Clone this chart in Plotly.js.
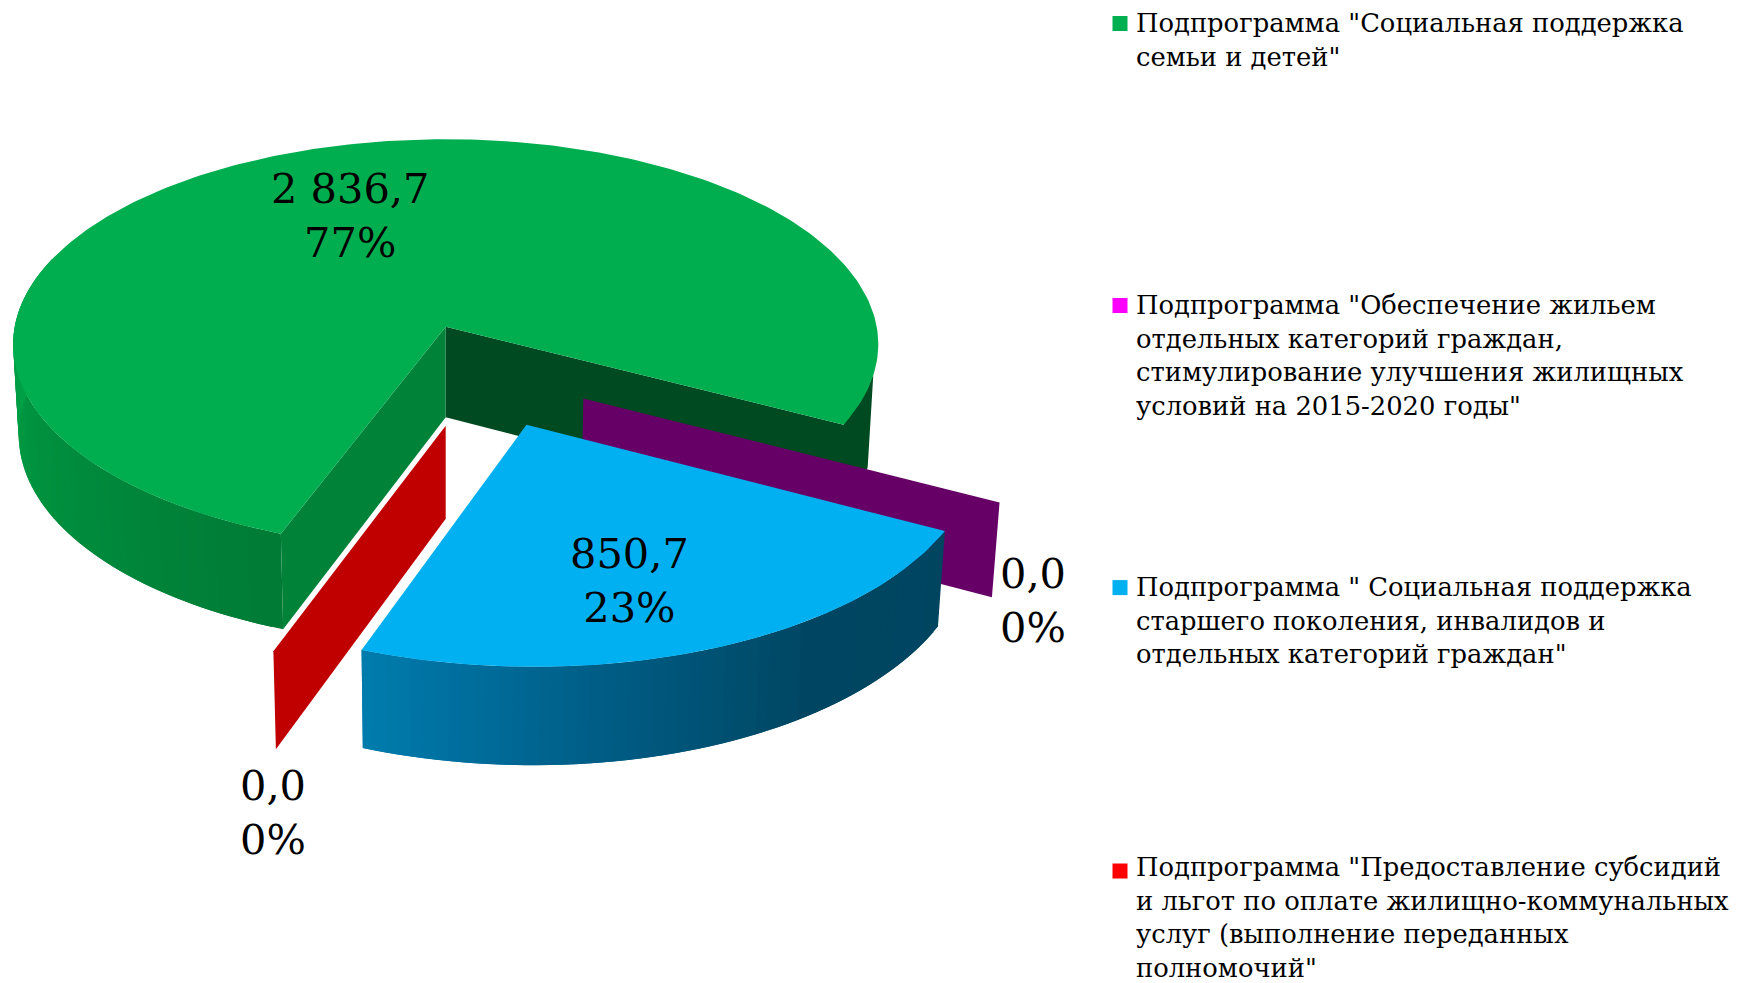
<!DOCTYPE html>
<html>
<head>
<meta charset="utf-8">
<script src="https://cdn.plot.ly/plotly-3.0.1.min.js"></script>
<style>html,body{margin:0;padding:0;background:#fff}#chart{width:1740px;height:983px}</style>
</head>
<body>
<div id="chart"></div>
<script>
// ---- data ----
const categories = [
  'Подпрограмма "Социальная поддержка семьи и детей"',
  'Подпрограмма "Обеспечение жильем отдельных категорий граждан, стимулирование улучшения жилищных условий на 2015-2020 годы"',
  'Подпрограмма " Социальная поддержка старшего поколения, инвалидов и отдельных категорий граждан"',
  'Подпрограмма "Предоставление субсидий и льгот по оплате жилищно-коммунальных услуг (выполнение переданных полномочий"'
];
const legendLines = [
  ['Подпрограмма "Социальная поддержка', 'семьи и детей"'],
  ['Подпрограмма "Обеспечение жильем', 'отдельных категорий граждан,', 'стимулирование улучшения жилищных', 'условий на 2015-2020 годы"'],
  ['Подпрограмма " Социальная поддержка', 'старшего поколения, инвалидов и', 'отдельных категорий граждан"'],
  ['Подпрограмма "Предоставление субсидий', 'и льгот по оплате жилищно-коммунальных', 'услуг (выполнение переданных', 'полномочий"']
];
const values = [2836.7, 0, 850.7, 0];

// ---- style ----
const legendColors = ['#00B050', '#FF00FF', '#00B0F0', '#FF0000'];
const topColors = ['#00AE4F', '#660066', '#00B0F0', '#C00000'];
const explode = [[0, 0], [0.31, 0.342], [0.18, 0.4625], [0, 0.467]];
const startAngle = 110.6;
const FONT = '"DejaVu Serif", serif';

// ---- perspective projection of the disc on to the page ----
const C = {x: 445.7, y: 326.7, R: 431, A: 203.5, D: 91.8, k: 0.0855, m: 0.013};
function project(X, Y, Z) {
  const w = 1 - C.k * Y + C.m * Z;
  return [C.x + C.R * X / w, C.y + (C.A * Y + C.D * Z) / w];
}
const rad = a => a * Math.PI / 180;
function rim(off, a, z) {
  return project(off[0] + Math.cos(rad(a)), off[1] + Math.sin(rad(a)), z);
}
function range(a0, a1, step) {
  const out = [];
  const n = Math.max(1, Math.round(Math.abs(a1 - a0) / step));
  for (let i = 0; i <= n; i++) out.push(a0 + (a1 - a0) * i / n);
  return out;
}
function hex(c) { return [1, 3, 5].map(i => parseInt(c.substr(i, 2), 16)); }
function rampColor(a, stops) {
  for (let i = 0; i < stops.length - 1; i++) {
    const [a0, c0] = stops[i], [a1, c1] = stops[i + 1];
    if (a >= a0 && a <= a1) {
      const t = (a - a0) / (a1 - a0), p = hex(c0), q = hex(c1);
      return 'rgb(' + p.map((v, j) => Math.round(v + (q[j] - v) * t)).join(',') + ')';
    }
  }
  return stops[stops.length - 1][1];
}
const traces = [];
function poly(pts, color, name) {
  traces.push({
    type: 'scatter', mode: 'lines', fill: 'toself', fillcolor: color,
    x: pts.map(p => p[0]), y: pts.map(p => p[1]),
    line: {color: 'rgba(0,0,0,0)', width: 0}, hoverinfo: 'skip', showlegend: false, name: name || ''
  });
}
// Each band runs on past the next one, so the next band paints over it and no seam shows.
function side(off, a0, a1, stops, name) {
  const as = range(a0, a1, 1.5);
  for (let i = 0; i < as.length - 1; i++) {
    const a = as[i], b = as[Math.min(i + 2, as.length - 1)];
    poly([rim(off, a, 0), rim(off, b, 0), rim(off, b, 1), rim(off, a, 1)], rampColor((a + as[i + 1]) / 2, stops), name);
  }
}
function topSector(off, a0, a1, color, name) {
  const pts = [project(off[0], off[1], 0)];
  range(a0, a1, 1).forEach(a => pts.push(rim(off, a, 0)));
  poly(pts, color, name);
}
function wall(off, a, color, name) {
  poly([project(off[0], off[1], 0), rim(off, a, 0), rim(off, a, 1), project(off[0], off[1], 1)], color, name);
}
// The dark inner wall and the short piece of rim behind it, as one outline.
function wallWithRim(off, a0, a1, color, name) {
  const pts = [project(off[0], off[1], 0), rim(off, a1, 0), rim(off, a0, 0)];
  range(a0, a1, 1).forEach(a => pts.push(rim(off, a, 1)));
  pts.push(project(off[0], off[1], 1));
  poly(pts, color, name);
}

// ---- slices ----
const total = values.reduce((s, v) => s + v, 0);
const angles = [];
let acc = startAngle;
values.forEach(v => { angles.push([acc, acc + v / total * 360]); acc += v / total * 360; });

// green slice
const gEnd = angles[0][1] - 360;
wallWithRim(explode[0], gEnd - 14, gEnd, '#004A22', categories[0]);
side(explode[0], angles[0][0], 200, [[110, '#007A35'], [130, '#00843A'], [160, '#00933F'], [180, '#009F45'], [200, '#00A449']], categories[0]);
wall(explode[0], angles[0][0], '#008239', categories[0]);
topSector(explode[0], angles[0][0], angles[0][1], topColors[0], categories[0]);
// purple zero slice
wall(explode[1], angles[1][0] - 360, topColors[1], categories[1]);
// blue slice
const bA = angles[2][0] - 360, bB = angles[2][1] - 360;
side(explode[2], bA, bB, [[25, '#004560'], [55, '#004662'], [80, '#005B82'], [100, '#0070A0'], [112, '#007FAF']], categories[2]);
topSector(explode[2], bA, bB, topColors[2], categories[2]);
// red zero slice
wall(explode[3], angles[3][0] - 360, topColors[3], categories[3]);

// ---- legend ----
const legendX = 1135, legendMarkX = 1120;
const legendY = [23.5, 305.5, 587.6, 871];
const textTop = [23.5 - 17, 305.5 - 17, 587.6 - 17, 851];
const annotations = [];
categories.forEach((c, i) => {
  traces.push({
    type: 'scatter', mode: 'markers', x: [legendMarkX], y: [legendY[i]],
    marker: {symbol: 'square', size: 15, color: legendColors[i]},
    hoverinfo: 'skip', showlegend: false, name: c
  });
  annotations.push({
    xref: 'x', yref: 'y', x: legendX, y: textTop[i], xanchor: 'left', yanchor: 'top',
    align: 'left', showarrow: false, borderpad: 0, text: legendLines[i].join('<br>'),
    font: {family: FONT, size: 25.8, color: '#000'}
  });
});

// ---- data labels ----
const labelPos = [[350, 215], [1033, 600], [629, 580], [273, 812]];
function fmtValue(v) {
  const s = v.toFixed(1).split('.');
  return s[0].replace(/\B(?=(\d{3})+$)/g, ' ') + ',' + s[1];
}
values.forEach((v, i) => {
  annotations.push({
    xref: 'x', yref: 'y', x: labelPos[i][0], y: labelPos[i][1], xanchor: 'center', yanchor: 'middle',
    align: 'center', showarrow: false, borderpad: 0,
    text: fmtValue(v) + '<br>' + Math.round(v / total * 100) + '%',
    font: {family: FONT, size: 41.5, color: '#000'}
  });
});

Plotly.newPlot('chart', traces, {
  width: 1740, height: 983, margin: {l: 0, r: 0, t: 0, b: 0},
  paper_bgcolor: '#fff', plot_bgcolor: '#fff', showlegend: false,
  xaxis: {range: [0, 1740], visible: false, fixedrange: true},
  yaxis: {range: [983, 0], visible: false, fixedrange: true},
  annotations: annotations
}, {displayModeBar: false, staticPlot: true});
</script>
</body>
</html>
